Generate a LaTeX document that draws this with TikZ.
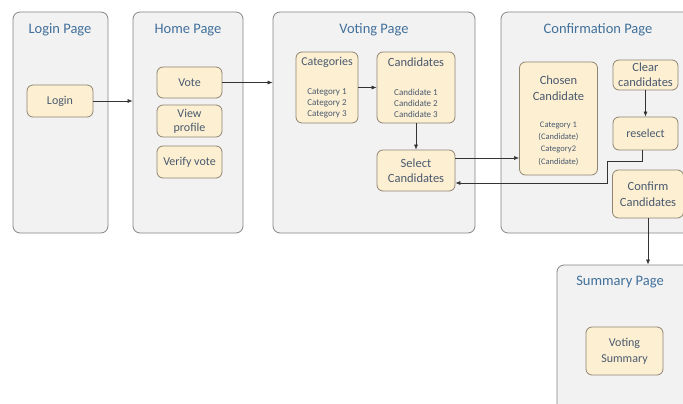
\documentclass[tikz,border=0pt]{standalone}
\usepackage{fontspec}
\setmainfont{Carlito}
\usetikzlibrary{arrows.meta}
\definecolor{panelfill}{HTML}{F2F2F3}
\definecolor{panelline}{HTML}{858585}
\definecolor{boxfill}{HTML}{FCEFD2}
\definecolor{boxline}{HTML}{8F8470}
\definecolor{titlecol}{HTML}{41709A}
\definecolor{textcol}{HTML}{4A5A6E}
\begin{document}
\begin{tikzpicture}[x=1pt,y=-1pt,
  panel/.style={draw=panelline, fill=panelfill, rounded corners=7pt, line width=0.8pt, inner sep=0pt},
  ptitle/.style={text=titlecol, font=\fontsize{14.5}{16}\selectfont, inner sep=0pt},
  box/.style={draw=boxline, fill=boxfill, rounded corners=6pt, line width=0.8pt, text=textcol,
    font=\fontsize{12}{14}\selectfont, align=center, inner sep=0pt},
  btitle/.style={text=textcol, font=\fontsize{12}{14}\selectfont, align=center, inner sep=0pt},
  bitems/.style={text=textcol, font=\fontsize{9}{11}\selectfont, align=center, inner sep=0pt},
  arr/.style={-{Latex[length=5pt,width=4pt]}, line width=0.6pt, draw=black!80}]
\useasboundingbox (0,0) rectangle (683,404);
\fill[white] (0,0) rectangle (683,404);

% panels
\node[panel, minimum width=95pt, minimum height=221pt] (loginP) at (60.5,122.5) {};
\node[panel, minimum width=110pt, minimum height=221pt] (homeP) at (188,122.5) {};
\node[panel, minimum width=202pt, minimum height=221pt] (votingP) at (374,122.5) {};
\node[panel, minimum width=199pt, minimum height=221pt] (confP) at (600.5,122.5) {};
\node[panel, minimum width=143pt, minimum height=155pt] (sumP) at (628.5,342.5) {};

% panel titles
\node[ptitle] (loginT) at (60,30) {Login Page};
\node[ptitle] (homeT) at (188,30) {Home Page};
\node[ptitle] (votingT) at (374,30) {Voting Page};
\node[ptitle] (confT) at (598,30) {Confirmation Page};
\node[ptitle] (sumT) at (620,282) {Summary Page};

% boxes
\node[box, minimum width=66pt, minimum height=32pt] (login) at (60,101) {Login};
\node[box, minimum width=65pt, minimum height=31pt] (vote) at (189.5,82.5) {Vote};
\node[box, minimum width=65pt, minimum height=32pt] (profile) at (189.5,121) {View\\profile};
\node[box, minimum width=65pt, minimum height=32pt] (verify) at (189.5,162) {Verify vote};

\node[box, minimum width=62pt, minimum height=71pt] (cat) at (327,87.5) {};
\node[btitle] (catT) at (327,62.5) {Categories};
\node[bitems] (catI) at (327,103) {Category 1\\Category 2\\Category 3};
\node[box, minimum width=78pt, minimum height=71pt] (cand) at (416,87.5) {};
\node[btitle, font=\fontsize{12.5}{14}\selectfont] (candT) at (416,62.5) {Candidates};
\node[bitems] (candI) at (416,103) {Candidate 1\\Candidate 2\\Candidate 3};
\node[box, minimum width=78pt, minimum height=41pt, font=\fontsize{12.5}{15}\selectfont] (select) at (416,170.5) {Select\\Candidates};

\node[box, minimum width=78pt, minimum height=113pt] (chosen) at (558.5,118.5) {};
\node[btitle, font=\fontsize{12.5}{16}\selectfont] (chosenT) at (558.5,88) {Chosen\\Candidate};
\node[bitems, font=\fontsize{8.5}{12.3}\selectfont] (chosenI) at (558.5,143.5) {Category 1\\(Candidate)\\Category2\\(Candidate)};
\node[box, minimum width=65pt, minimum height=30pt, font=\fontsize{12.5}{15}\selectfont] (clear) at (645.5,75) {Clear\\candidates};
\node[box, minimum width=65pt, minimum height=33pt] (reselect) at (645.5,133.5) {reselect};
\node[box, minimum width=71pt, minimum height=48pt, font=\fontsize{12.5}{16}\selectfont] (confirm) at (648,194) {Confirm\\Candidates};

\node[box, minimum width=77pt, minimum height=48pt, font=\fontsize{12}{16}\selectfont] (summary) at (624.5,351) {Voting\\Summary};

% connectors
\draw[arr] (login.east) -- (login.east -| homeP.west);
\draw[arr] (vote.east) -- (vote.east -| votingP.west);
\draw[arr] (cat.east) -- (cand.west);
\draw[arr] (cand.south) -- (select.north);
\coordinate (s1) at (455,158);
\draw[arr] (select.east |- s1) -- (chosen.west |- s1);
\coordinate (r0) at (642,150);
\coordinate (r1) at (607,161);
\coordinate (r2) at (455,183);
\draw[arr] (reselect.south -| r0) |- (r1) |- (select.east |- r2);
\draw[arr] (clear.south) -- (reselect.north);
\draw[arr] (confirm.south) -- (confirm.south |- sumP.north);
\end{tikzpicture}
\end{document}
